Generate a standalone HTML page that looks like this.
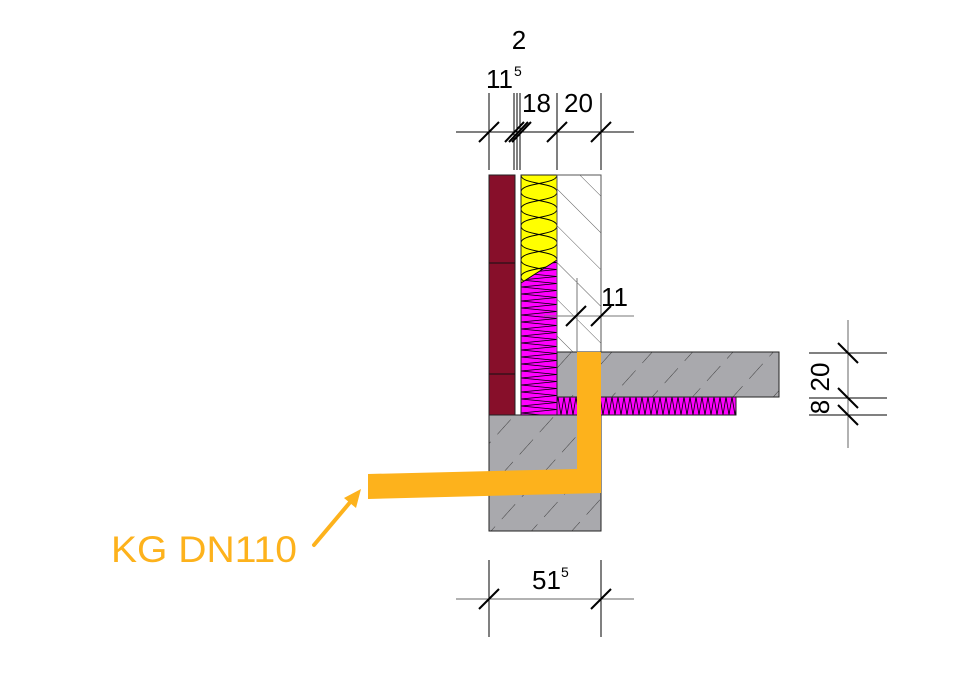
<!DOCTYPE html>
<html><head><meta charset="utf-8"><style>html,body{margin:0;padding:0;background:#fff}svg{display:block}</style></head>
<body>
<svg width="966" height="698" viewBox="0 0 966 698" xmlns="http://www.w3.org/2000/svg" font-family="Liberation Sans, Arial, sans-serif">
<defs>
<pattern id="hatch" patternUnits="userSpaceOnUse" width="26" height="26" patternTransform="rotate(-45)">
<line x1="0" y1="0" x2="0" y2="26" stroke="#333" stroke-width="0.8"/>
</pattern>
<pattern id="hatchC" patternUnits="userSpaceOnUse" width="30" height="30" patternTransform="rotate(42)">
<line x1="0" y1="0" x2="0" y2="20" stroke="#222" stroke-width="0.8"/>
</pattern>
<pattern id="zig" patternUnits="userSpaceOnUse" width="36" height="7" x="521" y="0">
<polyline points="0,0 36,3.5 0,7" fill="none" stroke="#000" stroke-width="0.8"/>
</pattern>
<pattern id="zigH" patternUnits="userSpaceOnUse" width="6" height="18" x="0" y="397">
<polyline points="0,0 3,18 6,0" fill="none" stroke="#000" stroke-width="0.8"/>
</pattern>
<pattern id="wool" patternUnits="userSpaceOnUse" width="36" height="34" x="521" y="175">
<path d="M0,0 C0,10 36,7 36,17 C36,27 0,24 0,34 M36,0 C36,10 0,7 0,17 C0,27 36,24 36,34" fill="none" stroke="#000" stroke-width="0.9"/>
</pattern>
</defs>

<rect x="489" y="175" width="26" height="240" fill="#870f2a" stroke="#222" stroke-width="1"/>
<line x1="489" y1="263" x2="515" y2="263" stroke="#111"/>
<line x1="489" y1="374" x2="515" y2="374" stroke="#111"/>

<rect x="521" y="175" width="36" height="240" fill="#ff00ff"/>
<rect x="521" y="175" width="36" height="240" fill="url(#zig)"/>
<polygon points="521,175 557,175 557,260 521,283" fill="#ffff00"/>
<polygon points="521,175 557,175 557,260 521,283" fill="url(#wool)"/>
<line x1="521" y1="283" x2="557" y2="260" stroke="#000"/>
<rect x="521" y="175" width="36" height="240" fill="none" stroke="#222"/>

<rect x="557" y="175" width="44" height="177" fill="#fff"/>
<rect x="557" y="175" width="44" height="177" fill="url(#hatch)"/>
<rect x="557" y="175" width="44" height="177" fill="none" stroke="#555"/>

<rect x="557" y="352" width="222" height="45" fill="#a9a9ad"/>
<rect x="557" y="352" width="222" height="45" fill="url(#hatchC)"/>
<rect x="557" y="352" width="222" height="45" fill="none" stroke="#222"/>
<rect x="557" y="397" width="179" height="18" fill="#ff00ff"/>
<rect x="557" y="397" width="179" height="18" fill="url(#zigH)"/>
<rect x="557" y="397" width="179" height="18" fill="none" stroke="#222"/>

<rect x="489" y="415" width="112" height="116" fill="#a9a9ad"/>
<rect x="489" y="415" width="112" height="116" fill="url(#hatchC)"/>
<rect x="489" y="415" width="112" height="116" fill="none" stroke="#222"/>

<polygon points="577,352 601,352 601,493 368,499 368,474 577,469" fill="#fdb21c"/>
<line x1="314" y1="545" x2="352" y2="500" stroke="#fdb21c" stroke-width="4" stroke-linecap="round"/>
<polygon points="361,489 344,498 356,508" fill="#fdb21c"/>
<text x="111" y="562" font-size="37" fill="#fdb21c" textLength="186" lengthAdjust="spacingAndGlyphs">KG DN110</text>

<g stroke="#000" stroke-width="1">
<line x1="456" y1="132" x2="634" y2="132"/>
<line x1="489" y1="93" x2="489" y2="170"/>
<line x1="514" y1="93" x2="514" y2="170"/>
<line x1="517" y1="93" x2="517" y2="170"/>
<line x1="520" y1="93" x2="520" y2="170"/>
<line x1="557" y1="93" x2="557" y2="170"/>
<line x1="601" y1="93" x2="601" y2="170"/>
</g>
<g stroke="#000" stroke-width="2">
<line x1="479" y1="142" x2="499" y2="122"/>
<line x1="505" y1="142" x2="524" y2="122"/>
<line x1="509" y1="142" x2="528" y2="122"/>
<line x1="512" y1="142" x2="531" y2="122"/>
<line x1="547" y1="142" x2="567" y2="122"/>
<line x1="591" y1="142" x2="611" y2="122"/>
</g>
<text x="519" y="49" font-size="26" text-anchor="middle">2</text>
<text x="486" y="88" font-size="26">11</text>
<text x="514" y="76" font-size="14">5</text>
<text x="522" y="112" font-size="26">18</text>
<text x="564" y="112" font-size="26">20</text>

<g stroke="#777" stroke-width="1">
<line x1="544" y1="316" x2="634" y2="316"/>
<line x1="577" y1="278" x2="577" y2="352"/>
</g>
<g stroke="#000" stroke-width="2">
<line x1="566" y1="326" x2="586" y2="306"/>
<line x1="591" y1="326" x2="611" y2="306"/>
</g>
<text x="601" y="306" font-size="26">11</text>

<g stroke="#000" stroke-width="1">
<line x1="848" y1="320" x2="848" y2="448" stroke="#666"/>
<line x1="809" y1="353" x2="887" y2="353"/>
<line x1="809" y1="398" x2="887" y2="398"/>
<line x1="809" y1="415" x2="887" y2="415"/>
</g>
<g stroke="#000" stroke-width="2">
<line x1="838" y1="343" x2="858" y2="363"/>
<line x1="838" y1="388" x2="858" y2="408"/>
<line x1="838" y1="405" x2="858" y2="425"/>
</g>
<text transform="translate(829,377) rotate(-90)" font-size="26" text-anchor="middle">20</text>
<text transform="translate(829,407) rotate(-90)" font-size="26" text-anchor="middle">8</text>

<g stroke="#000" stroke-width="1">
<line x1="456" y1="599" x2="634" y2="599" stroke="#666"/>
<line x1="489" y1="560" x2="489" y2="637"/>
<line x1="601" y1="560" x2="601" y2="637"/>
</g>
<g stroke="#000" stroke-width="2">
<line x1="479" y1="609" x2="499" y2="589"/>
<line x1="591" y1="609" x2="611" y2="589"/>
</g>
<text x="532" y="589" font-size="26">51</text>
<text x="561" y="577" font-size="14">5</text>
</svg>
</body></html>
